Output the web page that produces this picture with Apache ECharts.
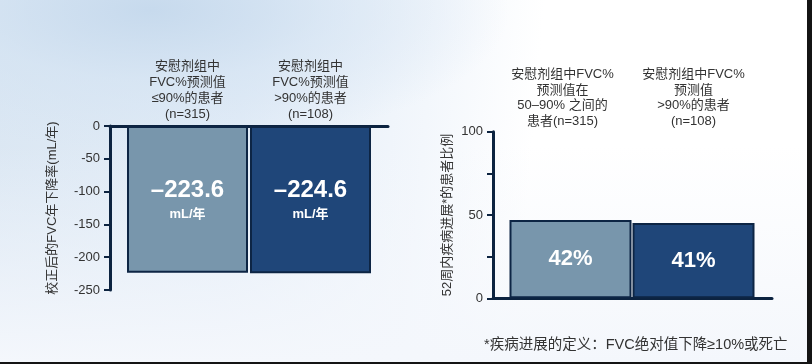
<!DOCTYPE html>
<html><head><meta charset="utf-8">
<script src="https://cdn.jsdelivr.net/npm/echarts@6/dist/echarts.min.js"></script>
<style>
html,body{margin:0;padding:0;width:812px;height:364px;overflow:hidden;background:#141414;}
#bg{position:absolute;left:0;top:0;width:807px;height:362px;
background:
 radial-gradient(ellipse 360px 140px at 150px 10px, rgba(196,216,236,0.9) 0%, rgba(210,226,242,0.6) 50%, rgba(255,255,255,0) 100%),
 linear-gradient(180deg, rgba(255,255,255,0) 40%, rgba(244,247,252,1) 100%),
 linear-gradient(95deg, #dbe7f3 0%, #e2ecf7 30%, #f3f7fc 52%, #ffffff 65%);}
#c{position:absolute;left:0;top:0;width:807px;height:362px;}
</style></head>
<body><div id="bg"></div><div id="c"></div>
<script>
// ---- data ----
const declineCategories = ['安慰剂组中\nFVC%预测值\n≤90%的患者\n(n=315)', '安慰剂组中\nFVC%预测值\n>90%的患者\n(n=108)'];
const declineValues = [-223.6, -224.6];
const declineLabels = ['\u2013223.6', '\u2013224.6'];
const declineUnit = 'mL/年';
const declineTicks = [0, -50, -100, -150, -200, -250];

const progCategories = ['安慰剂组中FVC%\n预测值在\n50\u201390% 之间的\n患者(n=315)', '安慰剂组中FVC%\n预测值\n>90%的患者\n(n=108)'];
const progBarHeights = [47, 45.2];
const progLabels = ['42%', '41%'];
const progTickLabels = [0, 50, 100];

const barColors = ['#7896ac', '#1f4679'];
const footnote = '*疾病进展的定义：FVC绝对值下降≥10%或死亡';
const leftAxisName = '校正后的FVC年下降率(mL/年)';
const rightAxisName = '52周内疾病进展*的患者比例';

// ---- chart ----
const FONT = "'Liberation Sans','Noto Sans CJK SC',sans-serif";
const AX = '#0c2340';
const chart = echarts.init(document.getElementById('c'));
const hid = {show:false};
chart.setOption({
  backgroundColor: 'transparent',
  textStyle: {fontFamily: FONT},
  title: {text: footnote, left: 479, top: 333,
    textStyle: {fontSize: 14.5, fontWeight: 'normal', color: '#333', fontFamily: FONT}},
  grid: [
    {left: 110, top: 126, width: 278, height: 164},
    {left: 126, top: 126, width: 246, height: 164},
    {left: 493, top: 131.7, width: 279, height: 166.6},
    {left: 509, top: 131.7, width: 246, height: 166.6}
  ],
  xAxis: [
    {gridIndex: 0, type: 'category', data: [''], position: 'top',
     axisLine: {show: true, lineStyle: {color: AX, width: 3}}, axisTick: hid, axisLabel: hid},
    {gridIndex: 1, type: 'category', data: declineCategories, position: 'top',
     axisLine: hid, axisTick: hid,
     axisLabel: {margin: 4, fontSize: 13, lineHeight: 16, color: '#333', fontFamily: FONT, interval: 0}},
    {gridIndex: 2, type: 'category', data: [''], position: 'bottom',
     axisLine: {show: true, lineStyle: {color: AX, width: 3}}, axisTick: hid, axisLabel: hid},
    {gridIndex: 3, type: 'category', position: 'top',
     data: [{value: progCategories[0], textStyle: {padding: [0, 16, 0, 0]}}, progCategories[1]],
     axisLine: hid, axisTick: hid,
     axisLabel: {margin: 3, fontSize: 13, lineHeight: 15.5, color: '#333', fontFamily: FONT, interval: 0}}
  ],
  yAxis: [
    {gridIndex: 0, type: 'value', min: -250, max: 0, interval: 50,
     name: leftAxisName, nameLocation: 'middle', nameGap: 51, nameRotate: 90,
     nameTextStyle: {fontSize: 13, color: '#333', fontFamily: FONT},
     axisLine: {show: true, lineStyle: {color: AX, width: 3}},
     axisTick: {show: true, length: 6, lineStyle: {color: AX, width: 2}},
     axisLabel: {margin: 10, fontSize: 13, color: '#333', fontFamily: FONT,
       customValues: declineTicks},
     splitLine: hid},
    {gridIndex: 1, type: 'value', min: -250, max: 0, show: false, splitLine: hid},
    {gridIndex: 2, type: 'value', min: 0, max: 100, interval: 25,
     name: rightAxisName, nameLocation: 'middle', nameGap: 39, nameRotate: 90,
     nameTextStyle: {fontSize: 13, color: '#333', fontFamily: FONT},
     axisLine: {show: true, lineStyle: {color: AX, width: 3}},
     axisTick: {show: true, length: 6, lineStyle: {color: AX, width: 2}},
     axisLabel: {margin: 10, fontSize: 13, color: '#333', fontFamily: FONT,
       formatter: v => progTickLabels.includes(v) ? String(v) : ''},
     splitLine: hid},
    {gridIndex: 3, type: 'value', min: 0, max: 100, show: false, splitLine: hid}
  ],
  series: [
    {type: 'bar', xAxisIndex: 1, yAxisIndex: 1, barWidth: 121,
     data: declineValues.map((v, i) => ({value: v,
       itemStyle: {color: barColors[i], borderColor: '#0d2544', borderWidth: 2}})),
     label: {show: true, position: 'inside',
       formatter: p => '{v|' + declineLabels[p.dataIndex] + '}\n{u|' + declineUnit + '}',
       rich: {
         v: {fontSize: 24, fontWeight: 'bold', color: '#fff', lineHeight: 30, fontFamily: FONT},
         u: {fontSize: 13, fontWeight: 'bold', color: '#fff', lineHeight: 18, fontFamily: FONT}
       }}},
    {type: 'bar', xAxisIndex: 3, yAxisIndex: 3, barWidth: 122,
     data: progBarHeights.map((v, i) => ({value: v,
       itemStyle: {color: barColors[i], borderColor: '#0d2544', borderWidth: 2}})),
     label: {show: true, position: 'inside',
       formatter: p => progLabels[p.dataIndex],
       fontSize: 22, fontWeight: 'bold', color: '#fff', fontFamily: FONT}}
  ]
});
</script></body></html>
